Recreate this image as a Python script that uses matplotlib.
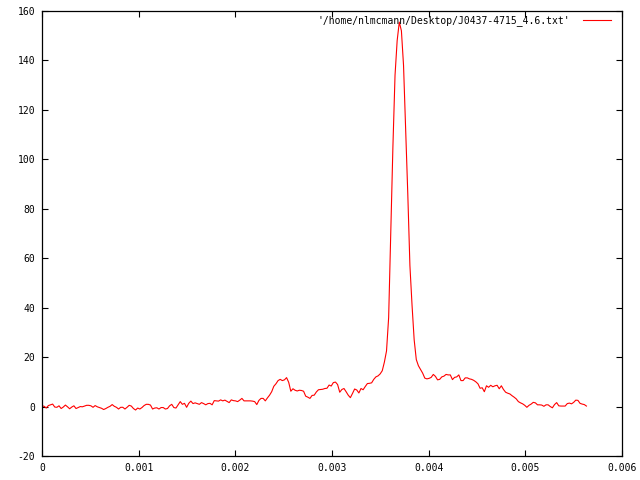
import numpy as np
import matplotlib
matplotlib.use('Agg')
import matplotlib.pyplot as plt

plt.rcParams['font.family'] = ['DejaVu Sans Mono']
plt.rcParams['axes.unicode_minus'] = False

# ── 数据 (从图上读出, 等间距采样) ──
label = "'/home/nlmcmann/Desktop/J0437-4715_4.6.txt'"
step = 2.2e-5
intensity = [
    0.3, 0.1, -0.6, 0.4, 0.7, 1.0, -0.2, -0.3, 0.3, -0.8,
    -0.2, 0.6, -0.1, -0.9, -0.2, 0.3, -0.8, -0.4, 0.0, -0.1,
    0.2, 0.5, 0.5, 0.3, -0.3, 0.4, -0.1, -0.4, -0.7, -1.2,
    -0.8, -0.3, 0.1, 0.8, 0.1, -0.3, -1.0, -0.3, -0.3, -1.0,
    -0.3, 0.5, 0.2, -0.8, -1.4, -0.6, -1.0, -0.4, 0.4, 0.9,
    0.9,
    0.6, -1.0, -0.6, -0.5, -1.0, -0.4, -0.4, -1.0, -0.8, 0.3,
    0.9, -0.4, -0.6, 0.7, 2.0, 0.9, 1.3, -0.3, 1.3, 2.2,
    1.2, 1.5, 1.2, 0.9, 1.6, 1.2, 0.7, 1.2, 1.3, 0.7,
    2.4, 2.3, 2.2, 2.7, 2.3, 2.6, 2.1, 1.6, 2.7, 2.4,
    2.3, 2.0, 2.6, 3.3, 2.3, 2.3, 2.3, 2.3, 2.2, 2.0,
    0.8, 2.5, 3.3, 3.3, 2.3, 3.5, 4.6, 6.0, 8.2, 9.2,
    10.5, 11.0, 10.5, 10.8, 11.7, 9.8, 6.2, 7.2, 6.6, 6.3,
    6.6, 6.5, 6.2, 4.2, 3.8, 3.3, 4.5, 4.6, 5.9, 6.8,
    6.9, 7.0, 7.3, 7.4, 8.7, 8.3, 9.7, 9.9, 8.9, 5.8,
    6.9, 7.3, 6.0, 4.6, 3.6, 5.3, 7.1, 6.7, 5.5, 7.3,
    6.8, 8.1, 9.3, 9.4, 9.6, 11.0, 12.0, 12.4, 13.2, 14.5,
    18.0, 22.5, 36.0, 70.0, 105.0, 134.0, 148.0, 155.5, 152.0, 138.0,
    112.0, 86.0, 57.0, 41.0, 27.0, 19.0, 16.5, 15.0, 13.5, 11.5,
    11.2, 11.4, 11.8, 13.0, 12.2, 10.8, 11.0, 12.0, 12.3, 13.0,
    12.8, 12.8, 10.9, 11.8, 12.0, 12.8, 10.5, 10.5, 11.6, 11.6,
    11.2, 11.0, 10.6, 10.0, 9.2, 7.4, 7.6, 6.0, 8.4, 7.8,
    8.6, 8.0, 8.4, 8.6, 7.2, 8.4, 6.9, 5.8, 5.4, 5.1,
    4.4, 3.8, 3.1, 2.0, 1.5, 1.1, 0.5, -0.3, 0.5, 1.0,
    1.7, 1.5, 0.7, 0.7, 0.6, 0.1, 0.7, 0.7, 0.0, -0.5,
    0.8, 1.6, 0.3, 0.2, 0.2, 0.2, 1.2, 1.4, 1.1, 1.7,
    2.6, 2.5, 1.3, 1.0, 0.8, 0.2,
]
x = np.arange(len(intensity)) * step

xticks = [0, 0.001, 0.002, 0.003, 0.004, 0.005, 0.006]
xticklabels = ['0', '0.001', '0.002', '0.003', '0.004', '0.005', '0.006']
yticks = [-20, 0, 20, 40, 60, 80, 100, 120, 140, 160]
yticklabels = ['-20', '0', '20', '40', '60', '80', '100', '120', '140', '160']

# ── 图 (gnuplot 风格) ──
fig = plt.figure(figsize=(6.4, 4.8), dpi=100)
ax = fig.add_axes([42 / 640, 24 / 480, 580 / 640, 445 / 480])
ax.plot(x, intensity, color='#ff0000', linewidth=0.8, label=label)

ax.set_xlim(0, 0.006)
ax.set_ylim(-20, 160)
ax.set_xticks(xticks)
ax.set_xticklabels(xticklabels)
ax.set_yticks(yticks)
ax.set_yticklabels(yticklabels)
ax.tick_params(direction='in', length=4.5, width=0.8, labelsize=7,
               top=True, right=True, color='black')
ax.tick_params(axis='x', pad=5)
ax.tick_params(axis='y', pad=5)
for sp in ax.spines.values():
    sp.set_linewidth(0.9)
    sp.set_color('black')

ax.legend(loc='upper right', bbox_to_anchor=(611 / 640, 1 - 15 / 480),
          bbox_transform=fig.transFigure, frameon=False, markerfirst=False,
          fontsize=7, borderpad=0, borderaxespad=0, handlelength=2.9,
          handletextpad=1.3)

plt.savefig('out.png', dpi=100)
plt.close()
